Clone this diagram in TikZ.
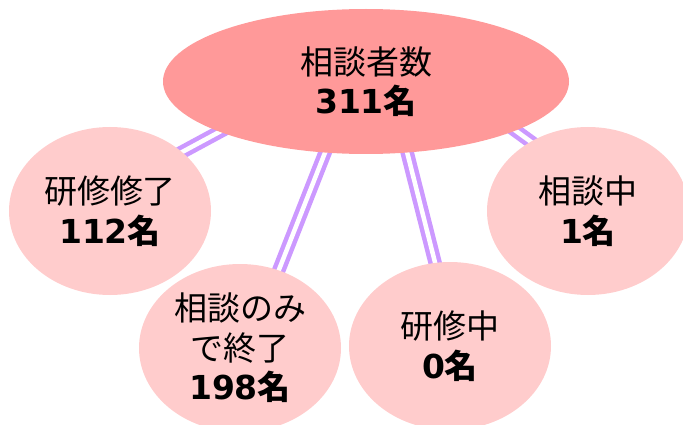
\documentclass[tikz,border=0pt]{standalone}
\usepackage{fontspec}
\newfontfamily\jp{Noto Sans CJK JP}
\newfontfamily\numf{DejaVu Sans}
\usetikzlibrary{shapes.geometric}
\pgfdeclarelayer{bg}
\pgfsetlayers{bg,main}
\definecolor{topfill}{HTML}{FF9999}
\definecolor{subfill}{HTML}{FFCCCC}
\definecolor{linkc}{HTML}{CC99FF}
\newcommand{\cnt}[1]{{\bfseries\numf #1\jp 名}}
\tikzset{
  bubble/.style={ellipse, inner sep=0pt, align=center, font=\jp\fontsize{33}{39.5}\selectfont},
  topbubble/.style={bubble, fill=topfill, minimum width=406pt, minimum height=145pt},
  subbubble/.style={bubble, fill=subfill, minimum width=202pt, minimum height=168pt},
  link/.style={draw=linkc, line width=4.5pt, double=white, double distance=4.5pt}
}
\begin{document}
\begin{tikzpicture}[x=1pt,y=-1pt]
\useasboundingbox (0,0) rectangle (683,425);
\node[topbubble] (top) at (366,81.5) {相談者数\\\cnt{311}};
\node[subbubble] (c1) at (110,211) {研修修了\\\cnt{112}};
\node[subbubble] (c2) at (240,348) {相談のみ\\で終了\\\cnt{198}};
\node[subbubble] (c3) at (450,346) {研修中\\\cnt{0}};
\node[subbubble] (c4) at (588,211) {相談中\\\cnt{1}};
\begin{pgfonlayer}{bg}
\draw[link] ([shift={(50,-47)}]c1.center) -- ([shift={(-106,28.5)}]top.center);
\draw[link] ([shift={(31,-58)}]c2.center) -- ([shift={(-36,58.5)}]top.center);
\draw[link] ([shift={(-8,-56)}]c3.center) -- ([shift={(38,58.5)}]top.center);
\draw[link] ([shift={(-28,-48)}]c4.center) -- ([shift={(124,30.5)}]top.center);
\end{pgfonlayer}
\end{tikzpicture}
\end{document}
